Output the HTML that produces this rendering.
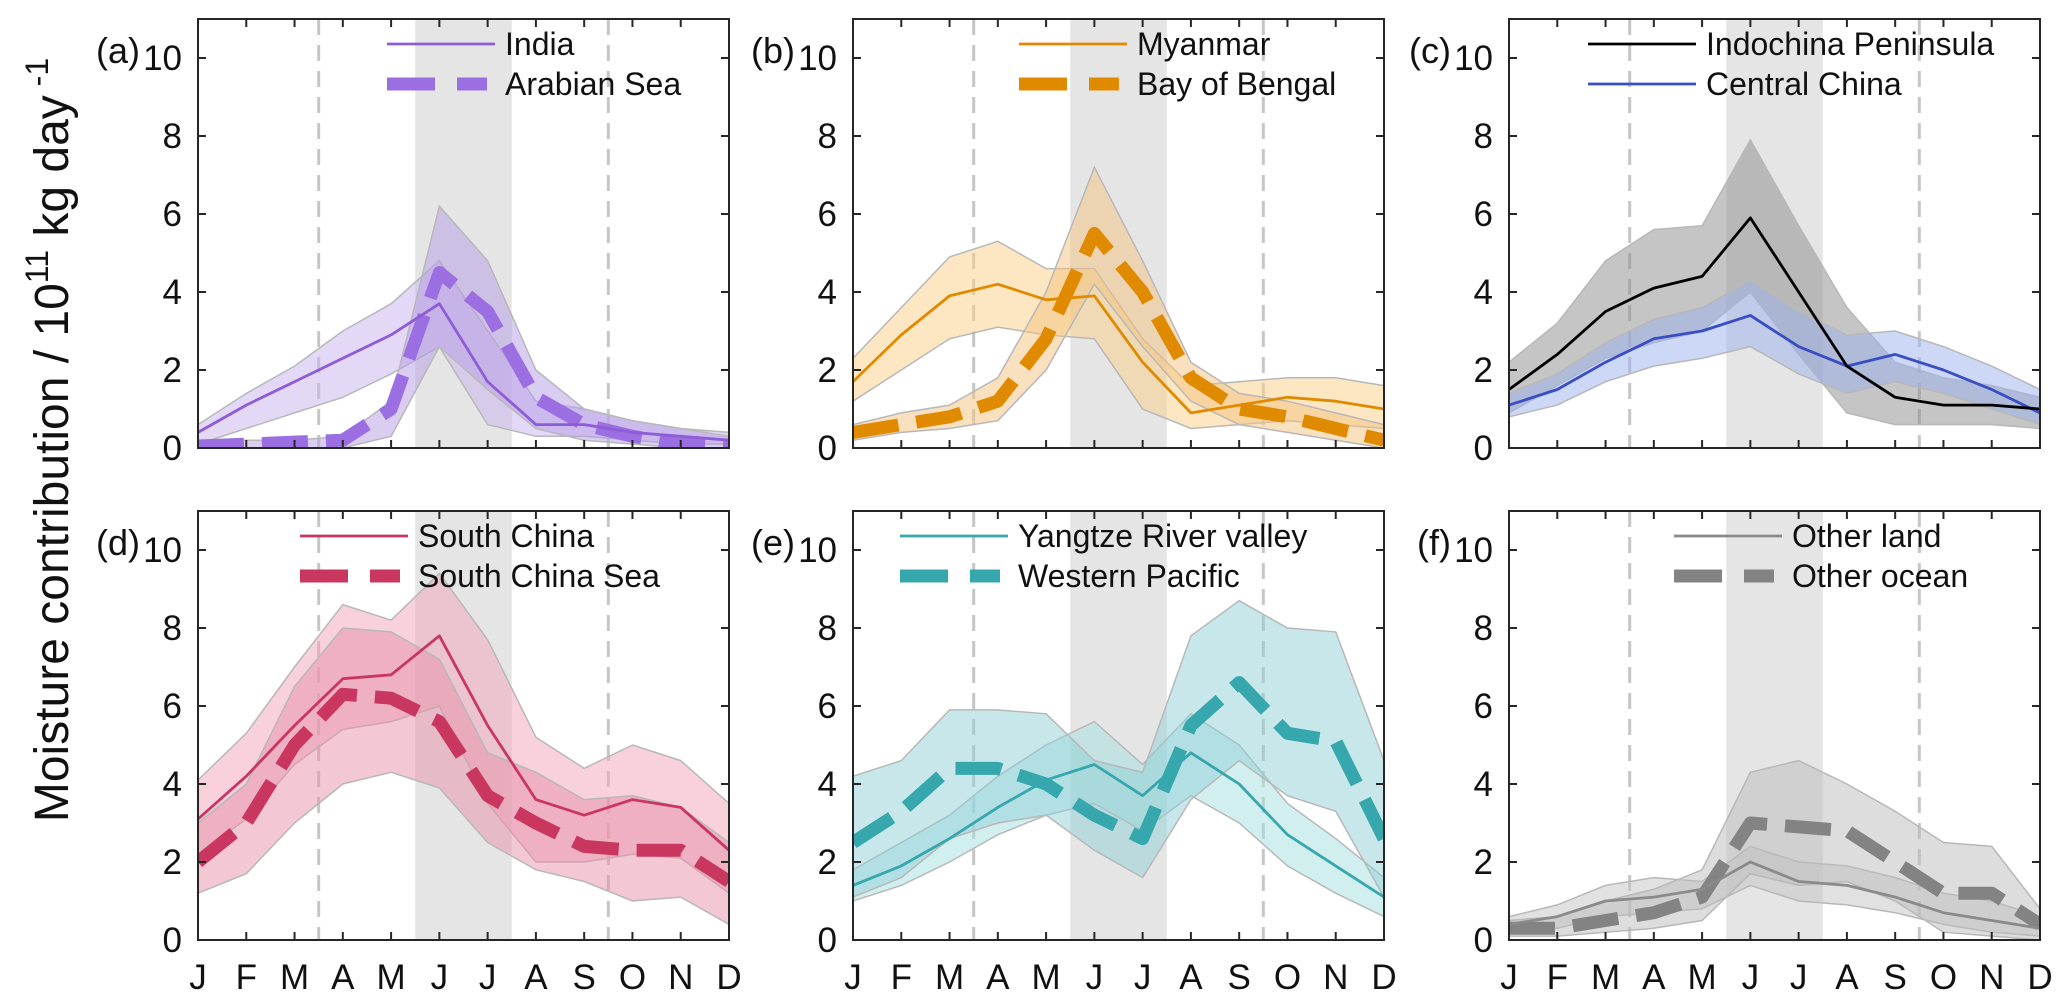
<!DOCTYPE html>
<html><head><meta charset="utf-8"><style>
html,body{margin:0;padding:0;background:#fff;}
svg{display:block;font-family:"Liberation Sans",Arial,sans-serif;}
</style></head><body>
<svg id="chart" width="2067" height="1008" viewBox="0 0 2067 1008"></svg>
<script>
const months = ["J","F","M","A","M","J","J","A","S","O","N","D"];
const yTicks = [0,2,4,6,8,10];
const panelLabels = ["(a)","(b)","(c)","(d)","(e)","(f)"];
const monsoonBand = [5.5, 7.5];
const dashedMonths = [3.5, 9.5];

// (a)
const indiaMean = [0.4,1.1,1.7,2.3,2.9,3.7,1.7,0.6,0.6,0.4,0.3,0.2];
const indiaUp   = [0.6,1.4,2.1,3.0,3.7,4.8,3.0,1.2,1.0,0.7,0.5,0.4];
const indiaLo   = [0.1,0.5,0.9,1.3,1.9,2.6,0.6,0.3,0.3,0.2,0.1,0.1];
const arabMean  = [0.05,0.1,0.15,0.2,1.0,4.5,3.5,1.3,0.6,0.3,0.1,0.0];
const arabUp    = [0.2,0.2,0.2,0.3,1.2,6.2,4.8,2.0,1.0,0.7,0.5,0.3];
const arabLo    = [0.0,0.0,0.0,0.0,0.3,2.6,1.5,0.5,0.2,0.1,0.0,0.0];
// (b)
const myanMean = [1.7,2.9,3.9,4.2,3.8,3.9,2.2,0.9,1.1,1.3,1.2,1.0];
const myanUp   = [2.3,3.6,4.9,5.3,4.6,4.6,2.8,1.6,1.7,1.8,1.8,1.6];
const myanLo   = [1.2,2.0,2.8,3.1,2.9,2.8,1.0,0.5,0.6,0.7,0.6,0.5];
const bobMean  = [0.4,0.6,0.8,1.2,2.8,5.5,4.0,1.8,1.0,0.8,0.5,0.2];
const bobUp    = [0.6,0.9,1.1,1.8,4.0,7.2,4.8,2.2,1.4,1.2,0.9,0.6];
const bobLo    = [0.2,0.4,0.5,0.7,2.0,4.2,2.6,1.2,0.6,0.4,0.2,0.0];
// (c)
const icpMean = [1.5,2.4,3.5,4.1,4.4,5.9,4.0,2.1,1.3,1.1,1.1,1.0];
const icpUp   = [2.2,3.2,4.8,5.6,5.7,7.9,5.7,3.6,2.2,1.8,1.6,1.3];
const icpLo   = [0.9,1.6,2.3,2.7,3.0,4.0,2.4,0.9,0.6,0.6,0.6,0.5];
const ccMean  = [1.1,1.5,2.2,2.8,3.0,3.4,2.6,2.1,2.4,2.0,1.5,0.9];
const ccUp    = [1.4,1.9,2.7,3.3,3.6,4.3,3.5,2.9,3.0,2.6,2.1,1.5];
const ccLo    = [0.8,1.1,1.7,2.1,2.3,2.6,1.9,1.4,1.7,1.4,1.0,0.6];
// (d)
const scMean  = [3.1,4.2,5.5,6.7,6.8,7.8,5.5,3.6,3.2,3.6,3.4,2.3];
const scUp    = [4.1,5.3,7.0,8.6,8.2,9.4,7.7,5.2,4.4,5.0,4.6,3.5];
const scLo    = [2.2,3.1,4.5,5.4,5.6,6.0,3.5,2.0,2.0,2.2,2.1,1.2];
const scsMean = [2.0,3.0,5.0,6.3,6.2,5.6,3.7,3.0,2.4,2.3,2.3,1.5];
const scsUp   = [3.0,4.0,6.5,8.0,7.9,7.2,4.8,4.3,3.6,3.7,3.4,2.5];
const scsLo   = [1.2,1.7,3.0,4.0,4.3,3.9,2.5,1.8,1.5,1.0,1.1,0.4];
// (e)
const yrvMean = [1.4,1.9,2.6,3.4,4.1,4.5,3.7,4.8,4.0,2.7,1.9,1.1];
const yrvUp   = [1.8,2.5,3.2,4.2,5.0,5.6,4.5,5.8,5.0,3.5,2.6,1.6];
const yrvLo   = [1.0,1.4,2.0,2.7,3.2,3.5,2.8,3.7,3.0,1.9,1.2,0.6];
const wpMean  = [2.5,3.3,4.4,4.4,4.0,3.2,2.6,5.5,6.6,5.3,5.1,2.6];
const wpUp    = [4.2,4.6,5.9,5.9,5.8,4.6,4.3,7.8,8.7,8.0,7.9,4.6];
const wpLo    = [1.1,1.6,2.6,3.0,3.2,2.3,1.6,3.6,4.6,3.7,3.3,1.1];
// (f)
const olMean = [0.4,0.6,1.0,1.1,1.3,2.0,1.5,1.4,1.1,0.7,0.5,0.3];
const olUp   = [0.6,0.9,1.4,1.6,1.5,2.4,2.0,1.9,1.6,1.2,1.0,0.6];
const olLo   = [0.2,0.3,0.6,0.7,0.8,1.4,1.0,0.9,0.7,0.4,0.2,0.1];
const ooMean = [0.3,0.3,0.5,0.7,1.1,3.0,2.9,2.8,2.0,1.2,1.2,0.4];
const ooUp   = [0.5,0.6,1.0,1.3,1.8,4.3,4.6,4.0,3.3,2.5,2.4,0.8];
const ooLo   = [0.1,0.1,0.2,0.3,0.5,1.7,1.4,1.5,1.0,0.2,0.1,0.0];

const panels = [
 {id:"a", col:0,row:0, legX:387, s1:{name:"India",mean:indiaMean,up:indiaUp,lo:indiaLo,line:"#8d5cd6",band:"#c8b4f0"},
  s2:{name:"Arabian Sea",mean:arabMean,up:arabUp,lo:arabLo,line:"#9b6ee2",band:"#b59ce6"}},
 {id:"b", col:1,row:0, legX:1019, s1:{name:"Myanmar",mean:myanMean,up:myanUp,lo:myanLo,line:"#e08a00",band:"#f9cf86"},
  s2:{name:"Bay of Bengal",mean:bobMean,up:bobUp,lo:bobLo,line:"#e08a00",band:"#f3c27d"}},
 {id:"c", col:2,row:0, legX:1588, s1:{name:"Indochina Peninsula",mean:icpMean,up:icpUp,lo:icpLo,line:"#000000",band:"#8c8c8c"},
  s2:{name:"Central China",mean:ccMean,up:ccUp,lo:ccLo,line:"#3a4ec4",band:"#9cb0ee"}, dash2:false},
 {id:"d", col:0,row:1, legX:300, s1:{name:"South China",mean:scMean,up:scUp,lo:scLo,line:"#c93761",band:"#f2a3b9"},
  s2:{name:"South China Sea",mean:scsMean,up:scsUp,lo:scsLo,line:"#c93761",band:"#e890a9"}},
 {id:"e", col:1,row:1, legX:900, s1:{name:"Yangtze River valley",mean:yrvMean,up:yrvUp,lo:yrvLo,line:"#35a7ad",band:"#a6dfe2"},
  s2:{name:"Western Pacific",mean:wpMean,up:wpUp,lo:wpLo,line:"#35a7ad",band:"#8fd0d5"}},
 {id:"f", col:2,row:1, legX:1674, s1:{name:"Other land",mean:olMean,up:olUp,lo:olLo,line:"#8a8a8a",band:"#c4c4c4"},
  s2:{name:"Other ocean",mean:ooMean,up:ooUp,lo:ooLo,line:"#838383",band:"#bcbcbc"}}
];

const NS="http://www.w3.org/2000/svg";
const svg=document.getElementById("chart");
function mk(tag,attrs,parent){const e=document.createElementNS(NS,tag);for(const k in attrs)e.setAttribute(k,attrs[k]);(parent||svg).appendChild(e);return e;}

const colLeft=[198,853,1509], W=531;
const rowTop=[19,511], H=429, YMAX=11;

// y-axis title
const yt=mk("text",{x:0,y:0,"font-size":48,"text-anchor":"middle",fill:"#111",transform:"translate(68,440) rotate(-90)"});


yt.innerHTML='Moisture contribution / 10<tspan dy="-20" font-size="32">11</tspan><tspan dy="20"> kg day</tspan><tspan dy="-20" font-size="32"> -1</tspan>';

panels.forEach((p,pi)=>{
  const L=colLeft[p.col], T=rowTop[p.row];
  const xs=m=>L+(m-1)/11*W;
  const ys=v=>T+H-v/YMAX*H;
  const g=mk("g",{});
  
  
  const cid="clip"+p.id;
  const cp=mk("clipPath",{id:cid},g); mk("rect",{x:L,y:T,width:W,height:H},cp);
  const plot=mk("g",{"clip-path":"url(#"+cid+")"},g);
  const mb=mk("rect",{x:xs(monsoonBand[0]),y:T,width:xs(monsoonBand[1])-xs(monsoonBand[0]),height:H,fill:"#e5e5e5"},plot);
  
  
  dashedMonths.forEach(m=>{
    const l=mk("line",{x1:xs(m),x2:xs(m),y1:T,y2:T+H,stroke:"#c6c6c6","stroke-width":3,"stroke-dasharray":"16,10"},plot);
    
    
  });
  [p.s1,p.s2].forEach((s,si)=>{
    let pts=s.up.map((v,i)=>xs(i+1)+","+ys(v));
    for(let i=s.lo.length-1;i>=0;i--)pts.push(xs(i+1)+","+ys(s.lo[i]));
    const b=mk("polygon",{points:pts.join(" "),fill:s.band,"fill-opacity":0.5,stroke:"#b8b8b8","stroke-width":1.5},plot);
    
    
  });
  [p.s2,p.s1].forEach(s=>{
    const isS2 = s===p.s2;
    const dashed = isS2 && p.dash2!==false;
    const d=s.mean.map((v,i)=>(i?"L":"M")+xs(i+1)+","+ys(v)).join(" ");
    const a={d:d,fill:"none",stroke:s.line,"stroke-width":dashed?13:2.8,"stroke-linejoin":"round"};
    if(dashed)a["stroke-dasharray"]="46,18";
    const ln=mk("path",a,plot);
    
    
  });
  const bx=mk("rect",{x:L,y:T,width:W,height:H,fill:"none",stroke:"#262626","stroke-width":2},g);
  
  
  months.forEach((m,i)=>{
    const x=xs(i+1);
    mk("line",{x1:x,x2:x,y1:T+H,y2:T+H-8,stroke:"#262626","stroke-width":2},g);
    mk("line",{x1:x,x2:x,y1:T,y2:T+8,stroke:"#262626","stroke-width":2},g);
    if(p.row===1){
      const t=mk("text",{x:x,y:T+H+49,"font-size":35,"text-anchor":"middle",fill:"#111"},g);
      
      
      t.textContent=m;
    }
  });
  yTicks.forEach(v=>{
    const y=ys(v);
    mk("line",{x1:L,x2:L+8,y1:y,y2:y,stroke:"#262626","stroke-width":2},g);
    mk("line",{x1:L+W,x2:L+W-8,y1:y,y2:y,stroke:"#262626","stroke-width":2},g);
    const t=mk("text",{x:L-16,y:y+12,"font-size":35,"text-anchor":"end",fill:"#111"},g);
    
    
    t.textContent=v;
  });
  const pl=mk("text",{x:L-58,y:T+44,"font-size":36,"text-anchor":"end",fill:"#111"},g);
  
  
  pl.textContent=panelLabels[pi];
  [p.s1,p.s2].forEach((s,si)=>{
    const ly=T+25+si*40;
    const dashed = si===1 && p.dash2!==false;
    const a={x1:p.legX,x2:p.legX+(dashed?100:108),y1:ly,y2:ly,stroke:s.line,"stroke-width":dashed?13:2.8};
    if(dashed)a["stroke-dasharray"]="48,22";
    const ll=mk("line",a,g);
    
    
    const lt=mk("text",{x:p.legX+118,y:ly+11,"font-size":32,fill:"#111"},g);
    
    
    lt.textContent=s.name;
  });
});
</script>
</body></html>
